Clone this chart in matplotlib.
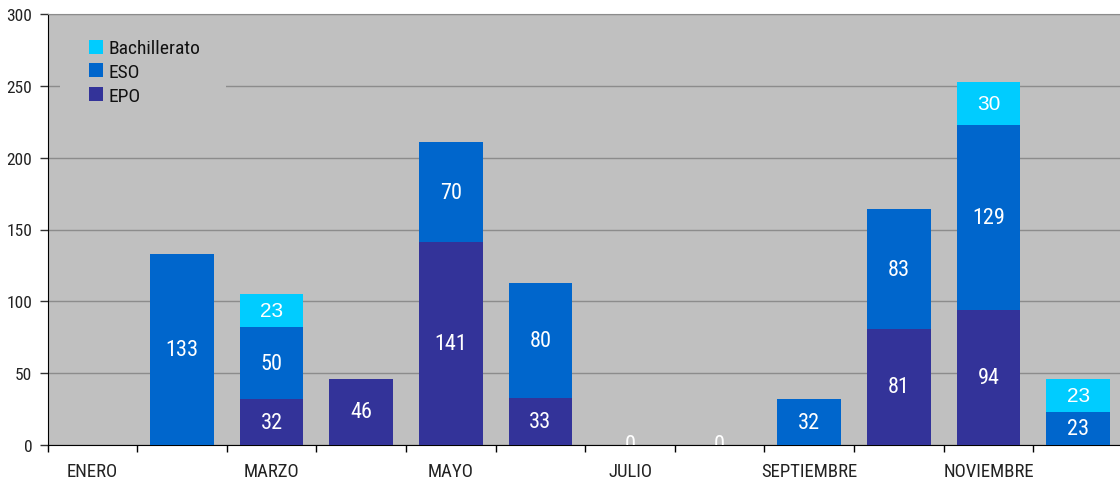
import numpy as np
import matplotlib
matplotlib.use("Agg")
import matplotlib.pyplot as plt
from matplotlib.patches import Rectangle
from matplotlib.ticker import FixedLocator, NullFormatter, FixedFormatter

# data
months = ['ENERO', 'FEBRERO', 'MARZO', 'ABRIL', 'MAYO', 'JUNIO',
          'JULIO', 'AGOSTO', 'SEPTIEMBRE', 'OCTUBRE', 'NOVIEMBRE', 'DICIEMBRE']
epo = [0, 0, 32, 46, 141, 33, 0, 0, 0, 81, 94, 0]
eso = [0, 133, 50, 0, 70, 80, 0, 0, 32, 83, 129, 23]
bach = [0, 0, 23, 0, 0, 0, 0, 0, 0, 0, 30, 23]
zero_label_months = ['JULIO', 'AGOSTO']

narrow = ['Roboto Condensed', 'DejaVu Sans']
regular = ['Liberation Sans', 'DejaVu Sans']
plt.rcParams['font.family'] = narrow

c_epo = '#333399'
c_eso = '#0066CC'
c_bach = '#00CCFF'
bg = '#C0C0C0'

W, H = 1120, 485
fig = plt.figure(figsize=(W / 100, H / 100), dpi=100)
ax_l, ax_r, ax_t, ax_b = 47.5, 1123, 15, 446
ax = fig.add_axes([ax_l / W, (H - ax_b) / H, (ax_r - ax_l) / W, (ax_b - ax_t) / H])
ax.set_facecolor(bg)

x = np.arange(len(months))
w = 0.71
epo_a = np.array(epo)
eso_a = np.array(eso)
bach_a = np.array(bach)

b1 = ax.bar(x, epo_a, w, color=c_epo, label='EPO', zorder=3)
b2 = ax.bar(x, eso_a, w, bottom=epo_a, color=c_eso, label='ESO', zorder=3)
b3 = ax.bar(x, bach_a, w, bottom=epo_a + eso_a, color=c_bach, label='Bachillerato', zorder=3)

# value labels
for i in range(len(months)):
    if epo[i] > 0:
        ax.text(x[i], epo[i] / 2, str(epo[i]), ha='center', va='center',
                color='white', fontsize=16, family=narrow, zorder=4)
    if eso[i] > 0:
        ax.text(x[i], epo[i] + eso[i] / 2, str(eso[i]), ha='center', va='center',
                color='white', fontsize=16, family=narrow, zorder=4)
    if bach[i] > 0:
        ax.text(x[i], epo[i] + eso[i] + bach[i] / 2, str(bach[i]), ha='center', va='center',
                color='white', fontsize=15, family=regular, zorder=4)
    if months[i] in zero_label_months:
        ax.text(x[i], 0, '0', ha='center', va='center', color='white',
                fontsize=16, family=narrow, zorder=4, clip_on=True)

ax.set_xlim(-0.5, len(months) - 0.5)
ax.set_ylim(0, 300)
ax.set_yticks(np.arange(0, 301, 50))
ax.yaxis.grid(True, color='#8C8C8C', linewidth=1)
ax.set_axisbelow(True)

# category boundaries as major ticks, labels on minor ticks
ax.xaxis.set_major_locator(FixedLocator(np.arange(-0.5, len(months), 1.0)))
ax.xaxis.set_major_formatter(NullFormatter())
ax.xaxis.set_minor_locator(FixedLocator(x))
ax.xaxis.set_minor_formatter(FixedFormatter([m if i % 2 == 0 else '' for i, m in enumerate(months)]))
ax.tick_params(axis='x', which='major', length=5, width=1, color='black', direction='out')
ax.tick_params(axis='x', which='minor', length=0, pad=12.5, labelsize=13.5, labelcolor='#222222')
ax.tick_params(axis='y', length=6, width=1, color='#333333', direction='out', labelsize=12.5, pad=5,
               labelcolor='#222222')

ax.spines['left'].set_color('black')
ax.spines['bottom'].set_color('black')
ax.spines['top'].set_color('#8C8C8C')
ax.spines['right'].set_visible(False)

# legend background block hiding the gridline
axw, axh = ax_r - ax_l, ax_b - ax_t
ax.add_patch(Rectangle(((60 - ax_l) / axw, 1 - (115 - ax_t) / axh), 166 / axw, 93 / axh,
                       transform=ax.transAxes, facecolor=bg, edgecolor='none', zorder=2))

leg = ax.legend(handles=[b3, b2, b1], labels=['Bachillerato', 'ESO', 'EPO'],
                loc='upper left', bbox_to_anchor=((89 - ax_l) / axw, 1 - (40.5 - ax_t) / axh),
                frameon=False, fontsize=14, handlelength=0.72, handleheight=0.72,
                handletextpad=0.28, labelspacing=0.29, borderpad=0, borderaxespad=0)
for t in leg.get_texts():
    t.set_color('#111111')
leg.set_zorder(5)

fig.savefig('out.png', dpi=100)
